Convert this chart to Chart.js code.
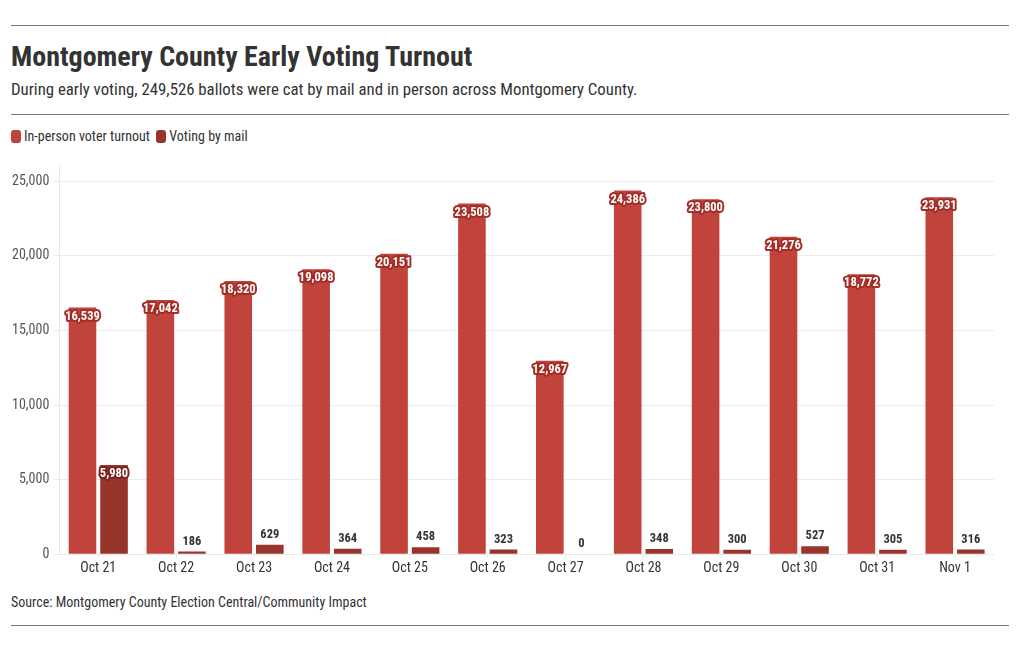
<!DOCTYPE html>
<html><head><meta charset="utf-8">
<script src="https://cdn.jsdelivr.net/npm/chart.js@4"></script>
<style>
body{margin:0;background:#fff;font-family:"Roboto Condensed","Liberation Sans Narrow","Roboto",sans-serif;color:#333;}
.rule{position:absolute;left:11px;width:998px;height:1px;background:#777;}
#title{position:absolute;left:11px;top:40px;font-size:28px;font-weight:700;color:#333;white-space:nowrap;}
#sub{position:absolute;left:11px;top:79px;font-size:16.8px;color:#333;white-space:nowrap;}
#legend{position:absolute;left:11px;top:128px;font-size:14px;color:#333;white-space:nowrap;}
#legend span.b{display:inline-block;width:10px;height:13px;border-radius:3px;vertical-align:-2px;margin-right:3px;}
#src{position:absolute;left:11px;top:594px;font-size:14px;color:#333;white-space:nowrap;}
#wrap{position:absolute;left:0;top:153px;width:994px;height:426px;}
</style></head><body>
<div class="rule" style="top:25px"></div>
<div id="title">Montgomery County Early Voting Turnout</div>
<div id="sub">During early voting, 249,526 ballots were cat by mail and in person across Montgomery County.</div>
<div class="rule" style="top:114px"></div>
<div id="legend"><span class="b" style="background:#c0443b"></span>In-person voter turnout &nbsp;<span class="b" style="background:#97352c"></span>Voting by mail</div>
<div id="wrap"><canvas id="c"></canvas></div>
<div id="src">Source: Montgomery County Election Central/Community Impact</div>
<div class="rule" style="top:625px"></div>
<script>
const categories = ["Oct 21","Oct 22","Oct 23","Oct 24","Oct 25","Oct 26","Oct 27","Oct 28","Oct 29","Oct 30","Oct 31","Nov 1"];
const inPerson = [16539,17042,18320,19098,20151,23508,12967,24386,23800,21276,18772,23931];
const byMail = [5980,186,629,364,458,323,0,348,300,527,305,316];
const yTicks = [0,5000,10000,15000,20000,25000];

const FONT = '"Roboto Condensed","Liberation Sans Narrow","Roboto",sans-serif';
const fmt = v => v.toLocaleString('en-US');

const labelPlugin = {
  id: 'barLabels',
  afterDatasetsDraw(chart) {
    const ctx = chart.ctx;
    ctx.save();
    ctx.font = 'bold 12.5px ' + FONT;
    ctx.textAlign = 'center';
    ctx.textBaseline = 'middle';
    ctx.lineJoin = 'round';
    chart.data.datasets.forEach((ds, di) => {
      const meta = chart.getDatasetMeta(di);
      meta.data.forEach((bar, i) => {
        const v = ds.data[i];
        const h = bar.base - bar.y;
        const txt = fmt(v);
        if (h > 30) {
          const y = bar.y + 9;
          ctx.lineWidth = 4;
          ctx.strokeStyle = di === 0 ? '#a32e27' : '#7a241d';
          ctx.strokeText(txt, bar.x, y);
          ctx.fillStyle = '#fff';
          ctx.fillText(txt, bar.x, y);
        } else {
          ctx.fillStyle = '#333';
          ctx.fillText(txt, bar.x, bar.y - 10);
        }
      });
    });
    ctx.restore();
  }
};

new Chart(document.getElementById('c'), {
  type: 'bar',
  data: {
    labels: categories,
    datasets: [
      {label: 'In-person voter turnout', data: inPerson, backgroundColor: '#c0443b', categoryPercentage: 0.81, barPercentage: 0.875},
      {label: 'Voting by mail', data: byMail, backgroundColor: '#97352c', categoryPercentage: 0.81, barPercentage: 0.875}
    ]
  },
  options: {
    responsive: true,
    maintainAspectRatio: false,
    animation: false,
    layout: {padding: {left: 7, right: 0, top: 0, bottom: 0}},
    plugins: {legend: {display: false}, tooltip: {enabled: false}},
    scales: {
      x: {
        offset: true,
        grid: {display: true, drawOnChartArea: false, drawTicks: true, tickLength: 4, color: '#e6eef0', offset: false},
        border: {color: '#e8e8e8'},
        ticks: {color: '#333', font: {family: FONT, size: 14}, padding: 2}
      },
      y: {
        min: 0, max: 26000,
        afterBuildTicks: axis => { axis.ticks = yTicks.map(v => ({value: v})); },
        grid: {color: '#ececec', drawTicks: true, tickLength: 5},
        border: {color: '#e8e8e8'},
        ticks: {color: '#555', font: {family: FONT, size: 14}, padding: 5, callback: v => fmt(v)}
      }
    }
  },
  plugins: [labelPlugin]
});
</script>
</body></html>
